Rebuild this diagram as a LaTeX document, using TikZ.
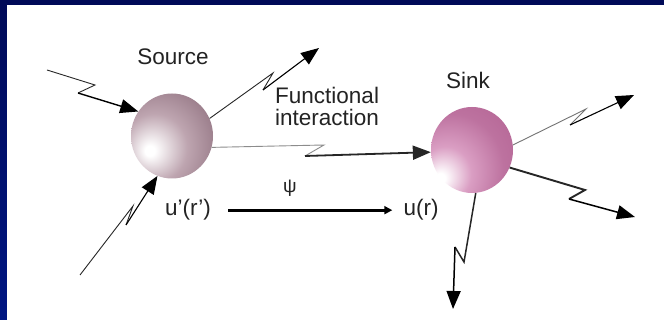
\documentclass[tikz,border=0pt]{standalone}
\usepackage{fontspec}
\setmainfont{Liberation Sans}
\usetikzlibrary{arrows.meta,shapes.geometric}
\definecolor{navytop}{RGB}{0,10,88}
\definecolor{navybot}{RGB}{0,22,130}
\definecolor{srcedge}{RGB}{132,100,115}
\definecolor{srcmid}{RGB}{190,165,176}
\definecolor{snkedge}{RGB}{165,78,130}
\definecolor{snkmid}{RGB}{218,158,195}
\definecolor{txt}{RGB}{35,35,35}
\pgfdeclareradialshading{srcball}{\pgfpoint{-14bp}{-9bp}}{color(0bp)=(white); color(3bp)=(white); color(20bp)=(srcmid); color(38bp)=(srcedge!70!srcmid); color(65bp)=(srcedge); color(85bp)=(srcedge)}
\pgfdeclareradialshading{snkball}{\pgfpoint{-20bp}{-17bp}}{color(0bp)=(white); color(3bp)=(white); color(16bp)=(snkmid); color(32bp)=(snkedge!55!snkmid); color(72bp)=(snkedge); color(90bp)=(snkedge)}
\tikzset{
  ball/.style={ellipse, minimum width=82pt, minimum height=85pt, inner sep=0pt},
  lbl/.style={text=txt, inner sep=0pt, font=\fontsize{22.5}{21.5}\selectfont},
  zthin/.style={line width=0.9pt, black!85},
  zthick/.style={line width=1.4pt, black, -{Triangle[length=18pt,width=14pt]}},
  psiarrow/.style={line width=2.8pt, black, -{Triangle[length=8pt,width=8pt]}}
}
\begin{document}
\begin{tikzpicture}[x=1pt,y=-1pt]
\useasboundingbox (0,0) rectangle (664,320);
% background frame
\shade[top color=navytop, bottom color=navybot] (0,0) rectangle (664,320);
\fill[white] (7,5) rectangle (664,320);

% spheres
\node[ball, shading=srcball] (src) at (172,136) {};
\node[ball, shading=snkball, minimum height=86pt] (snk) at (472,150) {};

% labels
\node[lbl, anchor=base] (lsrc) at (173,65) {Source};
\node[lbl, anchor=base] (lsnk) at (468,89) {Sink};
\node[lbl, anchor=north west, align=left] (lfi) at (275,87) {Functional\\interaction};
\node[lbl, anchor=base] (lu1) at (188,216) {u’(r’)};
\node[lbl, anchor=base] (lu2) at (421,216) {u(r)};
\node[lbl, anchor=center, font=\fontsize{19}{21}\selectfont] (lpsi) at (290,188) {ψ};
\draw[psiarrow] ([xshift=17pt]lu1.east) -- ([xshift=-11pt]lu1.east -| lu2.west);

% lightning connectors
\coordinate (s1) at (47,70);   \coordinate (a1) at (95,85);   \coordinate (b1) at (78,93);
\draw[zthin] (s1) -- (a1) -- (b1);
\draw[zthick] (b1) -- (src.144);

\coordinate (a2) at (273,73);  \coordinate (b2) at (263,90);  \coordinate (t2) at (319,48);
\draw[zthin] (src.25) -- (a2) -- (b2);
\draw[zthick, line width=1.1pt] (b2) -- (t2);

\coordinate (s3) at (80,275);  \coordinate (a3) at (133,206); \coordinate (b3) at (126,225);
\draw[zthin] (s3) -- (a3) -- (b3);
\draw[zthick, line width=1.1pt] (b3) -- (src.250);

\coordinate (a4) at (324,145); \coordinate (b4) at (305,156);
\draw[zthin, black!45] (src.344) -- (a4) -- (b4);
\draw[zthick, line width=1.8pt, black!85] (b4) -- (snk.183);

\coordinate (a5) at (586,109); \coordinate (b5) at (570,125); \coordinate (t5) at (634,95);
\draw[zthin, black!55] (snk.7) -- (a5) -- (b5);
\draw[zthick, line width=1.1pt] (b5) -- (t5);

\coordinate (a6) at (585,190); \coordinate (b6) at (569,199); \coordinate (t6) at (635,217);
\draw[zthin, line width=1.9pt] (snk.335) -- (a6) -- (b6);
\draw[zthick, line width=1.5pt] (b6) -- (t6);

\coordinate (a7) at (464,262); \coordinate (b7) at (455,247); \coordinate (t7) at (453,309);
\draw[zthin, line width=1.5pt] (snk.275) -- (a7) -- (b7);
\draw[zthick, line width=1.5pt] (b7) -- (t7);
\end{tikzpicture}
\end{document}
